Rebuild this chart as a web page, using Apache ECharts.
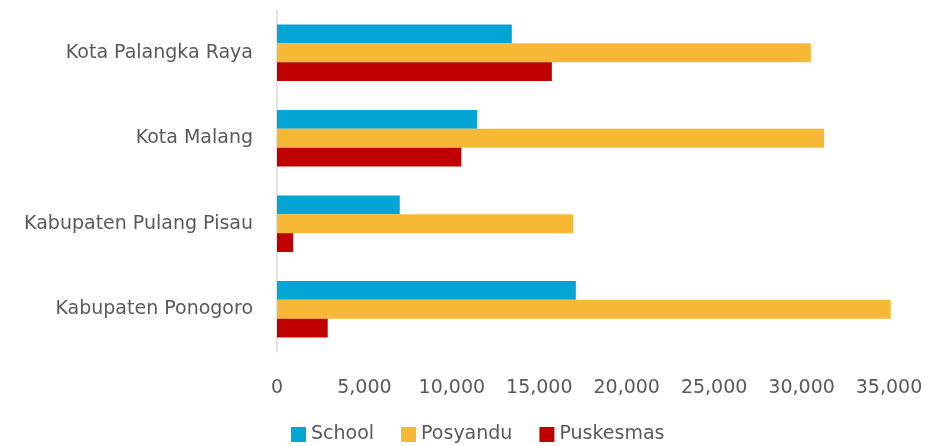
<html><head><meta charset='utf-8'>
<script src='https://cdn.jsdelivr.net/npm/echarts@6/dist/echarts.min.js'></script>
<style>body{margin:0;background:#fff}#c{width:926px;height:446px}</style>
</head><body><div id='c'></div><script>
// categories listed bottom to top (category axis runs upward)
var regions = ['Kabupaten Ponogoro', 'Kabupaten Pulang Pisau', 'Kota Malang', 'Kota Palangka Raya']
var school = [17090, 7020, 11440, 13430]
var posyandu = [35100, 16930, 31290, 30530]
var puskesmas = [2900, 920, 10540, 15720]

var font = 'DejaVu Sans'
var chart = echarts.init(document.getElementById('c'))
chart.setOption({
  animation: false,
  textStyle: { fontFamily: font },
  grid: { left: 277, right: 37, top: 10, bottom: 94 },
  legend: {
    left: 286, top: 420,
    itemWidth: 15, itemHeight: 15, itemGap: 27,
    icon: 'rect',
    textStyle: { fontSize: 19, color: '#595959', fontFamily: font }
  },
  xAxis: {
    type: 'value', min: 0, max: 35000, interval: 5000,
    axisLine: { show: false }, axisTick: { show: false },
    splitLine: { show: false },
    axisLabel: {
      margin: 27, fontSize: 19, color: '#595959',
      formatter: function (v) { return v.toLocaleString('en-US') }
    }
  },
  yAxis: {
    type: 'category', data: regions,
    axisLine: { lineStyle: { color: '#d9d9d9', width: 1.5 } },
    axisTick: { show: false },
    axisLabel: { margin: 24, fontSize: 19, color: '#595959' }
  },
  series: [
    { name: 'School', type: 'bar', data: school, itemStyle: { color: '#02a5d3' }, barGap: '0%', barCategoryGap: '34%' },
    // the largest Posyandu bar runs a little past the 35,000 mark
    { name: 'Posyandu', type: 'bar', data: posyandu, clip: false, itemStyle: { color: '#f7b835' } },
    { name: 'Puskesmas', type: 'bar', data: puskesmas, itemStyle: { color: '#c00000' } }
  ]
})
</script></body></html>
